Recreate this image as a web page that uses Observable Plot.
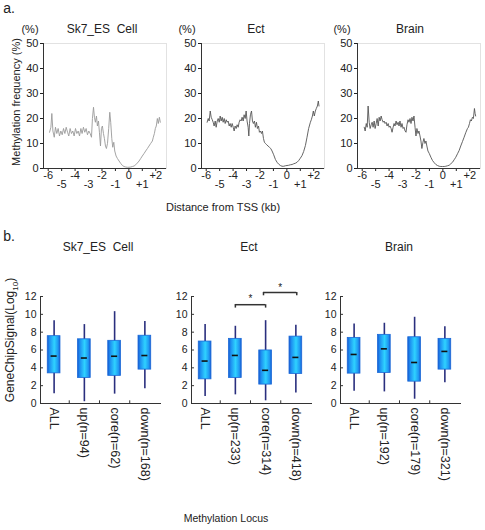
<!DOCTYPE html>
<html><head><meta charset="utf-8">
<script src="https://cdn.jsdelivr.net/npm/d3@7"></script>
<script src="https://cdn.jsdelivr.net/npm/@observablehq/plot@0.6"></script>
<style>
body{margin:0;background:#fff;}
#root{position:relative;width:485px;height:530px;font-family:"Liberation Sans",Arial,sans-serif;color:#222;overflow:hidden;background:#fff}
.t{position:absolute;white-space:pre;transform:translate(-50%,-50%);line-height:1}
.r{transform:translate(-50%,-50%) rotate(-90deg)}
.p{position:absolute}
</style></head><body>
<svg width="0" height="0" style="position:absolute"><defs>
<linearGradient id="boxgrad" x1="0" x2="1" y1="0" y2="0">
<stop offset="0" stop-color="#1858d0"/><stop offset="0.18" stop-color="#1d8ef0"/><stop offset="0.55" stop-color="#2fd2ff"/><stop offset="0.85" stop-color="#1e98f2"/><stop offset="1" stop-color="#1858d0"/>
</linearGradient></defs></svg>
<div id="root"></div>
<script>
// ---------- data: panel a (methylation frequency, %) ----------
const sk7X = [-5.90,-5.80,-5.73,-5.65,-5.55,-5.46,-5.36,-5.26,-5.16,-5.06,-4.96,-4.86,-4.76,-4.66,-4.56,-4.47,-4.37,-4.27,-4.17,-4.07,-3.97,-3.87,-3.77,-3.67,-3.57,-3.48,-3.38,-3.28,-3.18,-3.08,-2.98,-2.88,-2.78,-2.71,-2.63,-2.56,-2.49,-2.41,-2.34,-2.26,-2.19,-2.11,-2.04,-1.97,-1.89,-1.82,-1.74,-1.67,-1.59,-1.50,-1.42,-1.35,-1.27,-1.20,-1.12,-1.05,-0.95,-0.85,-0.73,-0.60,-0.48,-0.36,-0.23,-0.11,0.01,0.14,0.26,0.39,0.51,0.63,0.76,0.88,1.00,1.13,1.25,1.38,1.50,1.62,1.75,1.82,1.90,1.97,2.04,2.12,2.19,2.27,2.34];
const sk7Y = [14.5,16.5,22,15,12.5,16.5,14,16,13,15,13.5,16,14,16.5,14.5,13,16,14,15,13,16,14,15,13,16,14,16.5,14.5,16,13.5,15,14,12.5,20,24.5,20.5,18.5,21,17,19,14.5,9,16,17,14,12,9,8,10,16,22.5,18.5,12,8.5,10.5,7,5,4,3,2,1.2,0.8,0.6,0.5,0.5,0.6,0.8,1,1.5,2.2,3,4,5,6,7,8,9,10,11,12.5,14,16,17,20,18,20.5,18.5];
const ectX = [-5.93,-5.85,-5.78,-5.70,-5.63,-5.55,-5.48,-5.41,-5.33,-5.26,-5.18,-5.11,-5.03,-4.96,-4.89,-4.81,-4.74,-4.66,-4.59,-4.51,-4.44,-4.37,-4.29,-4.22,-4.14,-4.07,-3.99,-3.92,-3.85,-3.77,-3.70,-3.62,-3.55,-3.48,-3.40,-3.33,-3.25,-3.18,-3.10,-3.03,-2.96,-2.88,-2.83,-2.78,-2.71,-2.63,-2.56,-2.49,-2.41,-2.34,-2.26,-2.19,-2.11,-2.04,-1.97,-1.89,-1.82,-1.74,-1.67,-1.59,-1.50,-1.40,-1.30,-1.20,-1.10,-0.98,-0.85,-0.73,-0.60,-0.48,-0.36,-0.23,-0.11,0.01,0.14,0.26,0.39,0.51,0.63,0.76,0.88,1.00,1.13,1.25,1.38,1.50,1.62,1.75,1.82,1.90,1.97,2.04,2.12,2.19,2.27,2.34,2.39];
const ectY = [18.5,20,19,23,20.5,19.5,18.5,17,19,16.5,19,20,18.5,21,19,20.5,18.5,20,18,19.5,18.5,19,17,18,16.5,18,16.5,15,17,16,17.5,16.5,18.5,19.5,19,20.5,19,21.5,20,23,19,16.5,13,18,21.5,23,19,18,19,16.5,18.5,16,17,14.5,15,14,15,12,10.5,10,9.5,9,8.5,8,7,5.5,3.6,2.5,1.7,1.2,0.9,0.9,1.1,1.2,1.3,1.5,1.6,1.9,2.1,2.5,3.2,4.1,5.2,6.8,9.2,12.5,16,18.5,19.5,21,23,21,23,24,25,27,25];
const brainX = [-5.85,-5.78,-5.70,-5.63,-5.56,-5.48,-5.41,-5.33,-5.26,-5.19,-5.11,-5.04,-4.96,-4.89,-4.81,-4.74,-4.67,-4.59,-4.52,-4.44,-4.37,-4.30,-4.22,-4.15,-4.07,-4.00,-3.93,-3.85,-3.78,-3.70,-3.63,-3.56,-3.48,-3.41,-3.33,-3.26,-3.19,-3.11,-3.04,-2.96,-2.89,-2.81,-2.74,-2.67,-2.59,-2.52,-2.44,-2.37,-2.30,-2.22,-2.15,-2.07,-2.00,-1.93,-1.85,-1.78,-1.70,-1.63,-1.56,-1.48,-1.41,-1.33,-1.26,-1.19,-1.11,-1.01,-0.89,-0.77,-0.64,-0.52,-0.40,-0.27,-0.15,-0.02,0.10,0.22,0.35,0.47,0.59,0.72,0.84,0.96,1.09,1.21,1.33,1.46,1.58,1.70,1.83,1.90,1.98,2.05,2.12,2.20,2.27,2.35,2.40,2.44];
const brainY = [16.5,15,18,16.5,25,18.5,16,17.5,18.5,16.5,19,16,18,20,17,20.5,19,21,19.5,18.5,19,18,18.5,17,18,16.5,17,16,14.5,16.5,18,17,19,17.5,18.5,17,19,16.5,18,16,16.5,15,14.5,17.5,19.5,18.5,20,18,20.5,19,21,16.5,13,16,14,15,13,11,8,10.5,12,10,11,9,7,6,4.5,3.2,2.3,1.6,1.2,0.9,0.8,0.8,0.8,0.9,1.1,1.3,1.9,2.5,3.5,4.5,5.9,7.2,9,10.8,12.5,14.3,16,16.5,18,19.5,19,20.5,20,24,22,21];
const lineYTicks = [0,10,20,30,40,50];
const lineXTicksUpper = [-6,-4,-2,0,2];
const lineXTicksLower = [-5,-3,-1,1];

// ---------- data: panel b (GeneChipSignal, log10) ----------
const sk7Cats = ["ALL","up(n=94)","core(n=62)","down(n=168)"];
const sk7Lo  = [1.1,0.2,1.05,1.65];
const sk7Q1  = [3.38,2.86,3.1,3.8];
const sk7Med = [5.32,5.1,5.3,5.38];
const sk7Q3  = [7.55,7.2,7.03,7.6];
const sk7Hi  = [9.29,8.85,10.3,9.2];

const ectCats = ["ALL","up(n=233)","core(n=314)","down(n=418)"];
const ectLo  = [0.78,0.97,0.3,1.19];
const ectQ1  = [2.71,2.86,2.12,3.31];
const ectMed = [4.76,5.39,3.72,5.17];
const ectQ3  = [6.95,7.25,5.95,7.5];
const ectHi  = [8.85,8.66,9.29,8.77];

const brainCats = ["ALL","up(n=192)","core(n=179)","down(n=321)"];
const brainLo  = [1.38,1.3,0.48,2.34];
const brainQ1  = [3.35,3.42,2.45,3.8];
const brainMed = [5.5,6.13,4.6,5.84];
const brainQ3  = [7.36,7.7,7.43,7.25];
const brainHi  = [8.92,9.0,9.67,8.62];

const boxYTicks = [0,2,4,6,8,10,12];
const boxSepTicks = [1.5,2.5,3.5];
// significance brackets (Ect)
const sigFrom = [2, 2.93];
const sigTo   = [3, 4.03];
const sigBar  = [11.08, 12.45];
const sigLeg  = [10.7, 12.08];
const sigStar = [11.72, 12.95];

const FONT = '"Liberation Sans", Arial, sans-serif';
const root = document.getElementById("root");

function addText(txt, x, y, size, extra) {
  const d = document.createElement("div");
  d.className = "t" + (extra && extra.rotate ? " r" : "");
  d.style.left = x + "px"; d.style.top = y + "px"; d.style.fontSize = size + "px";
  if (extra && extra.html) d.innerHTML = txt; else d.textContent = txt;
  root.appendChild(d);
}
function place(svg, left, top) {
  const d = document.createElement("div");
  d.className = "p"; d.style.left = left + "px"; d.style.top = top + "px";
  d.appendChild(svg); root.appendChild(d);
}
const fmt = d => d > 0 ? "+" + d : String(d);

function linePlot(xs, ys, color) {
  const data = xs.map((x, i) => ({x, y: ys[i]}));
  const x0 = -6.35, x1 = 2.8;
  return Plot.plot({
    width: 163, height: 161, marginLeft: 35, marginRight: 5, marginTop: 8, marginBottom: 28,
    style: {fontFamily: FONT, fontSize: "11px", color: "#222", background: "transparent"},
    x: {domain: [x0, x1], axis: null},
    y: {domain: [0, 50], axis: null},
    marks: [
      Plot.frame({stroke: "#e2e2e2"}),
      Plot.axisY(lineYTicks, {tickSize: 3, tickPadding: 2, label: null}),
      Plot.axisX(lineXTicksUpper, {tickSize: 3, tickPadding: 0, tickFormat: fmt, label: null}),
      Plot.axisX(lineXTicksLower, {tickSize: 3, tickPadding: 9, tickFormat: fmt, label: null}),
      Plot.ruleX([x0], {stroke: "#333"}),
      Plot.ruleY([0], {stroke: "#333"}),
      Plot.line(data, {x: "x", y: "y", stroke: color, strokeWidth: 0.9})
    ]
  });
}

function boxPlot(cats, lo, q1, med, q3, hi, sig) {
  const data = cats.map((c, i) => ({pos: i + 1, label: c, lo: lo[i], q1: q1[i], med: med[i], q3: q3[i], hi: hi[i]}));
  const x0 = 0.55, x1 = 4.55;
  const marks = [
    Plot.ruleX([x0], {y1: 0, y2: 12, stroke: "#333"}),
    Plot.ruleY([0], {x1: x0, x2: x1, stroke: "#333"}),
    Plot.axisY(boxYTicks, {tickSize: 0, tickPadding: 4, label: null}),
    Plot.ruleY(boxYTicks, {x1: x0, x2: x0 + 0.1, stroke: "#333"}),
    Plot.ruleX(boxSepTicks, {y1: 0, y2: 0.3, stroke: "#333"}),
    Plot.ruleX(data, {x: "pos", y1: "lo", y2: "hi", stroke: "#2a2f7e", strokeWidth: 1.6}),
    Plot.rect(data, {x1: d => d.pos - 0.21, x2: d => d.pos + 0.21, y1: "q1", y2: "q3", fill: "url(#boxgrad)", stroke: "#1b6ad8", strokeWidth: 0.8}),
    Plot.ruleY(data, {y: "med", x1: d => d.pos - 0.1, x2: d => d.pos + 0.1, stroke: "#111", strokeWidth: 1.6}),
    Plot.text(data, {x: "pos", y: -0.45, text: "label", rotate: 90, textAnchor: "start", fontSize: 12.5, fill: "#222"})
  ];
  if (sig) {
    const s = sigFrom.map((a, i) => ({a, b: sigTo[i], bar: sigBar[i], leg: sigLeg[i], star: sigStar[i]}));
    marks.push(
      Plot.ruleY(s, {y: "bar", x1: "a", x2: "b", stroke: "#333", strokeWidth: 1.5}),
      Plot.ruleX(s, {x: "a", y1: "leg", y2: "bar", stroke: "#333", strokeWidth: 1.5}),
      Plot.ruleX(s, {x: "b", y1: "leg", y2: "bar", stroke: "#333", strokeWidth: 1.5}),
      Plot.text(s, {x: d => (d.a + d.b) / 2, y: "star", text: () => "*", fontSize: 10, fill: "#222"})
    );
  }
  return Plot.plot({
    width: 156, height: 217, marginLeft: 30, marginRight: 5, marginTop: 25, marginBottom: 85,
    style: {fontFamily: FONT, fontSize: "10.5px", color: "#222", background: "transparent"},
    x: {domain: [x0, x1], axis: null},
    y: {domain: [0, 12], axis: null},
    marks
  });
}

// panel a
place(linePlot(sk7X, sk7Y, "#9a9a9a"), 8, 35);
place(linePlot(ectX, ectY, "#555"), 165.7, 35);
place(linePlot(brainX, brainY, "#555"), 322, 35);
addText("a.", 9, 8, 14);
addText("(%)", 30, 29, 11); addText("(%)", 187, 29, 11); addText("(%)", 342, 29, 11);
addText("Sk7_ES  Cell", 102, 29, 12); addText("Ect", 256, 29, 12); addText("Brain", 410, 29, 12);
addText("Methylation frequency (%)", 16, 102, 11, {rotate: true});
addText("Distance from TSS (kb)", 223, 207, 11);

// panel b
place(boxPlot(sk7Cats, sk7Lo, sk7Q1, sk7Med, sk7Q3, sk7Hi, false), 9.5, 271);
place(boxPlot(ectCats, ectLo, ectQ1, ectMed, ectQ3, ectHi, true), 161, 271);
place(boxPlot(brainCats, brainLo, brainQ1, brainMed, brainQ3, brainHi, false), 310, 271);
addText("b.", 9, 236, 14);
addText("Sk7_ES  Cell", 98, 247, 12); addText("Ect", 249, 247, 12); addText("Brain", 399, 247, 12);
addText("GeneChipSignal(Log<sub style='font-size:8px'>10</sub>)", 12, 340, 12, {rotate: true, html: true});
addText("Methylation Locus", 226, 518, 10.5);
</script>
</body></html>
